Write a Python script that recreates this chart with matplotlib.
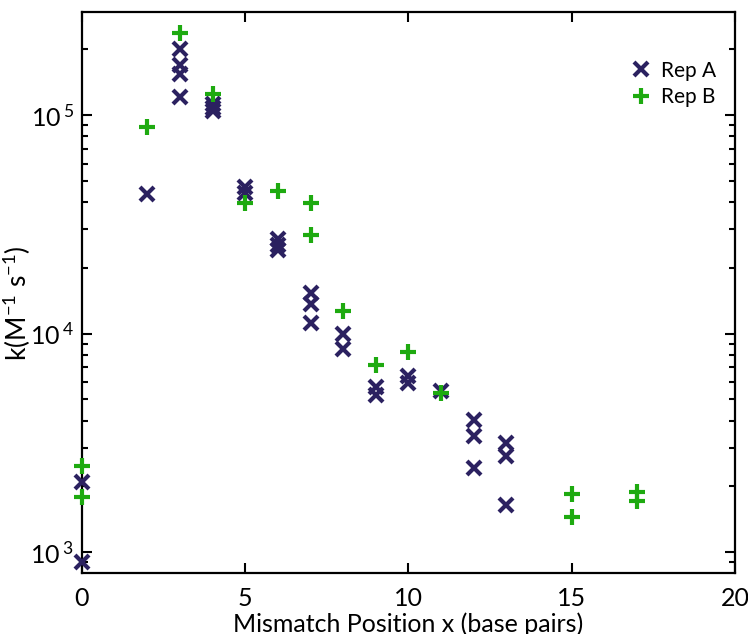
import numpy as np
import matplotlib
matplotlib.use("Agg")
import matplotlib.pyplot as plt
from matplotlib.ticker import FuncFormatter

plt.rcParams['font.family'] = ['Lato', 'DejaVu Sans']
plt.rcParams['mathtext.default'] = 'regular'

# Rep A (x markers)
rep_a_x = [0, 0, 2, 3, 3, 3, 3, 4, 4, 4, 5, 5, 6, 6, 6, 7, 7, 7,
           8, 8, 9, 9, 10, 10, 11, 12, 12, 12, 13, 13, 13]
rep_a_k = [2090, 900, 43500, 200000, 169000, 154000, 121000, 112000, 108000, 104000,
           47000, 44000, 27100, 25400, 24100, 15300, 13600, 11200,
           9950, 8500, 5690, 5230, 6380, 5930, 5450, 4020, 3400, 2420,
           3150, 2750, 1640]

# Rep B (+ markers)
rep_b_x = [0, 0, 2, 3, 4, 5, 6, 7, 7, 8, 9, 10, 11, 15, 15, 17, 17]
rep_b_k = [2480, 1790, 88100, 237000, 125000, 39600, 45000, 39600, 28300,
           12700, 7180, 8260, 5350, 1840, 1450, 1890, 1720]

fig = plt.figure(figsize=(7.48, 6.34), dpi=100)
ax = fig.add_axes([0.1096, 0.0962, 0.873, 0.8853])

ax.plot(rep_a_x, rep_a_k, linestyle='none', marker='x', markersize=10,
        markeredgewidth=3, color='#2b2160', label='Rep A', clip_on=False, zorder=3)
ax.plot(rep_b_x, rep_b_k, linestyle='none', marker='+', markersize=11,
        markeredgewidth=3, color='#1eaa10', label='Rep B', clip_on=False, zorder=3)

ax.set_yscale('log')
ax.set_xlim(0, 20)
ax.set_ylim(802, 297000)
ax.set_xticks([0, 5, 10, 15, 20])
ax.yaxis.set_major_formatter(FuncFormatter(
    lambda v, p: r'$10^{\,%d}$' % round(np.log10(v))))

for s in ax.spines.values():
    s.set_linewidth(1.6)
ax.tick_params(which='both', direction='in', top=True, right=True, width=1.5,
               labelsize=18, pad=10)
ax.tick_params(which='major', length=7)
ax.tick_params(which='minor', length=4)
ax.tick_params(axis='y', pad=6)

ax.set_xlabel('Mismatch Position x (base pairs)', fontsize=18, labelpad=2)
ax.set_ylabel(r'k(M$^{-1}$ s$^{-1}$)', fontsize=19)
ax.yaxis.set_label_coords(-0.075, 0.48)

ax.legend(loc='upper right', frameon=False, fontsize=15, handlelength=1.1,
          handletextpad=0.4, bbox_to_anchor=(0.99, 0.935), borderaxespad=0.2,
          labelspacing=0.3)

fig.savefig('out.png', dpi=100)
